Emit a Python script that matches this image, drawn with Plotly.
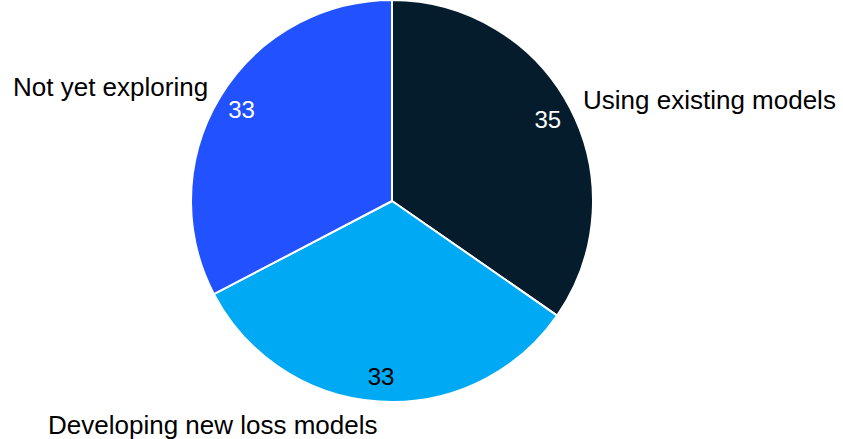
import math
import plotly.graph_objects as go

labels = ["Using existing models", "Developing new loss models", "Not yet exploring"]
values = [35, 33, 33]
colors = ["#051C2C", "#00A9F4", "#2251FF"]
value_colors = ["white", "black", "white"]

FONT = "Liberation Sans, Arial, sans-serif"
LABEL_SIZE = 26
VALUE_SIZE = 24

W, H = 843, 439
M = dict(l=0, r=59, t=0, b=37)
plot_w = W - M["l"] - M["r"]
plot_h = H - M["t"] - M["b"]
radius = min(plot_w, plot_h) / 2

common = dict(labels=labels, values=values, sort=False, direction="clockwise",
              rotation=0, showlegend=False)

fig = go.Figure()

# Coloured slices
fig.add_trace(go.Pie(
    **common,
    marker=dict(colors=colors, line=dict(color="white", width=2)),
    textinfo="none",
    hoverinfo="label+value",
))

# Values near the rim: a transparent ring carries the inside text
fig.add_trace(go.Pie(
    **common,
    hole=0.75,
    marker=dict(colors=["rgba(0,0,0,0)"] * 3, line=dict(width=0)),
    textinfo="value",
    textposition="inside",
    insidetextorientation="horizontal",
    textfont=dict(family=FONT, size=VALUE_SIZE, color=value_colors),
    hoverinfo="skip",
))

# Category names just outside the rim, at each slice's mid-angle
total = sum(values)
gap = 13
text_h = LABEL_SIZE * 0.8
start = 0.0
for name, v in zip(labels, values):
    mid = (start + v / 2) / total * 2 * math.pi
    start += v
    sx, sy = math.sin(mid), -math.cos(mid)          # pixel direction (y down)
    px = plot_w / 2 + (radius + gap) * sx
    py = plot_h / 2 + (radius + gap) * sy
    dy = (text_h / 2) * (1 if sy > 0 else -1)
    yshift = dy / (1 + (sx * sx) / (sy * sy)) if sy != 0 else 0
    fig.add_annotation(
        x=px / plot_w, y=1 - py / plot_h, xref="paper", yref="paper",
        text=name, showarrow=False,
        xanchor="left" if sx >= 0 else "right", yanchor="middle",
        yshift=-yshift, borderpad=0,
        font=dict(family=FONT, size=LABEL_SIZE, color="black"),
    )

fig.update_layout(
    width=W,
    height=H,
    margin=M,
    paper_bgcolor="white",
    plot_bgcolor="white",
    font=dict(family=FONT),
)

fig.write_html("out.html")
